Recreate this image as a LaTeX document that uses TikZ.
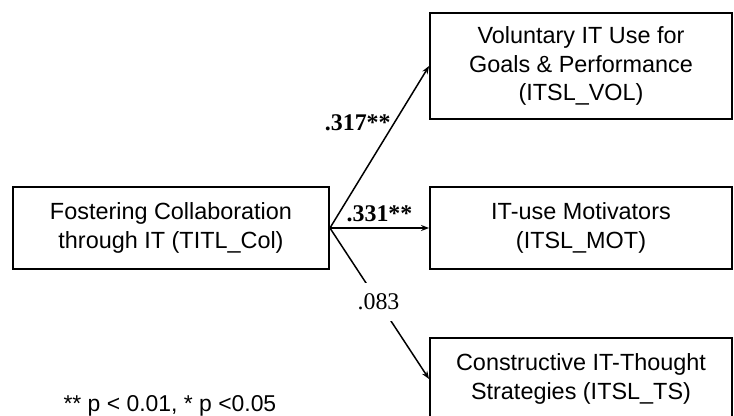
\documentclass[tikz,border=0pt]{standalone}
\usepackage{fontspec}
\setmainfont{Liberation Serif}
\setsansfont{Liberation Sans}
\usetikzlibrary{arrows.meta}

\begin{document}
\begin{tikzpicture}[x=1bp,y=-1bp,
    varbox/.style={draw,line width=1.9bp,align=center,inner sep=0pt,
        font=\sffamily\fontsize{23.5}{29}\selectfont},
    link/.style={line width=1.5bp,-{Stealth[length=8bp,width=6bp]}},
    coef/.style={font=\fontsize{24}{28}\selectfont}]
    \useasboundingbox (0,0) rectangle (734,415);
    \clip (0,0) rectangle (734,415);
    % variables
    \node [varbox,minimum width=316bp,minimum height=82bp] (col) at (171,228)
        {Fostering Collaboration\\through IT (TITL\_Col)};
    \node [varbox,minimum width=302bp,minimum height=106bp] (vol) at (581,66)
        {Voluntary IT Use for\\Goals \& Performance\\(ITSL\_VOL)};
    \node [varbox,minimum width=302bp,minimum height=82bp] (mot) at (581,228)
        {IT-use Motivators\\(ITSL\_MOT)};
    \node [varbox,minimum width=302bp,minimum height=82bp] (ts) at (581,379)
        {Constructive IT-Thought\\Strategies (ITSL\_TS)};
    % paths
    \draw [link] (col.east) -- (vol.west)
        node [coef,pos=0.65,anchor=east,inner sep=3bp] {\textbf{.317**}};
    \draw [link] (col.east) -- (mot.west)
        node [coef,midway,above,inner sep=5bp] {\textbf{.331**}};
    \draw [link] (col.east) -- (ts.west)
        node [coef,pos=0.49,fill=white,inner xsep=4bp,inner ysep=11bp] {.083};
    \node [anchor=base west,font=\sffamily\fontsize{23}{28}\selectfont] (note) at (60,411)
        {** p < 0.01, * p <0.05};
\end{tikzpicture}
\end{document}
